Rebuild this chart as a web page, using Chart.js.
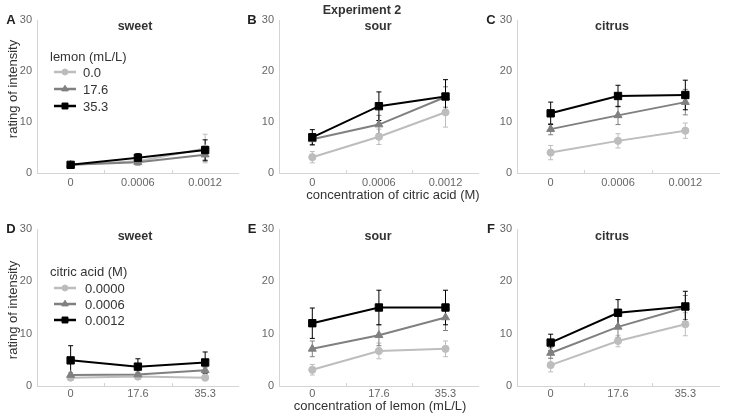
<!DOCTYPE html>
<html><head><meta charset="utf-8">
<script src="https://cdn.jsdelivr.net/npm/chart.js@4/dist/chart.umd.min.js"></script>
<style>
body{margin:0;background:#fff;font-family:"Liberation Sans",Arial,sans-serif;}
#wrap{position:relative;width:729px;height:417px;overflow:hidden;background:#fff;}
canvas{position:absolute;}
.t{position:absolute;white-space:nowrap;line-height:1;color:#333;}
.c{transform:translate(-50%,-50%);}
.l{transform:translateY(-50%);}
.b{font-weight:bold;}
</style></head><body><div id="wrap"></div>
<script>
// ---------- data ----------
const citricCats = ['0', '0.0006', '0.0012'];
const lemonCats = ['0', '17.6', '35.3'];
const lemonLevels = ['0.0', '17.6', '35.3'];
const citricLevels = ['0.0000', '0.0006', '0.0012'];
const yTicks = [0, 10, 20, 30];

// Top row: x = citric acid, series = lemon level
const A_sweet_l0 = [1.6, 2.3, 4.8];   const A_sweet_l0_err = [0.4, 0.8, 2.8];
const A_sweet_l1 = [1.6, 2.1, 3.6];   const A_sweet_l1_err = [0.4, 0.5, 1.3];
const A_sweet_l2 = [1.6, 3.0, 4.5];   const A_sweet_l2_err = [0.4, 0.8, 2.0];

const B_sour_l0 = [3.1, 7.1, 11.9];   const B_sour_l0_err = [1.1, 1.5, 2.9];
const B_sour_l1 = [6.6, 9.5, 14.9];   const B_sour_l1_err = [1.0, 1.8, 2.0];
const B_sour_l2 = [7.0, 13.1, 15.0];  const B_sour_l2_err = [1.5, 2.8, 3.3];

const C_citrus_l0 = [4.0, 6.3, 8.3];   const C_citrus_l0_err = [1.4, 1.4, 1.5];
const C_citrus_l1 = [8.6, 11.3, 13.9]; const C_citrus_l1_err = [1.1, 1.8, 2.5];
const C_citrus_l2 = [11.7, 15.1, 15.3];const C_citrus_l2_err = [2.2, 2.1, 2.9];

// Bottom row: x = lemon, series = citric acid level
const D_sweet_c0 = [1.6, 1.8, 1.6];   const D_sweet_c0_err = [0.3, 0.3, 0.3];
const D_sweet_c1 = [2.1, 2.2, 3.0];   const D_sweet_c1_err = [0.4, 0.4, 0.6];
const D_sweet_c2 = [4.9, 3.7, 4.5];   const D_sweet_c2_err = [2.8, 1.5, 2.0];

const E_sour_c0 = [3.1, 6.7, 7.1];    const E_sour_c0_err = [1.0, 1.5, 1.5];
const E_sour_c1 = [7.1, 9.7, 13.1];   const E_sour_c1_err = [1.5, 2.0, 2.5];
const E_sour_c2 = [12.0, 15.0, 15.0]; const E_sour_c2_err = [2.9, 3.3, 3.3];

const F_citrus_c0 = [4.0, 8.6, 11.8]; const F_citrus_c0_err = [1.3, 1.1, 2.2];
const F_citrus_c1 = [6.3, 11.3, 15.0];const F_citrus_c1_err = [1.0, 2.0, 2.3];
const F_citrus_c2 = [8.3, 14.0, 15.2];const F_citrus_c2_err = [1.6, 2.5, 2.9];

// ---------- styles ----------
const FONT = '"Liberation Sans", Arial, sans-serif';
const COLS = ['#bdbdbd', '#808080', '#000000'];
const STYLES = ['circle', 'triangle', 'rect'];
const RADII = [3.6, 4.6, 5.2];
const LEG_RADII = [3, 3.8, 4.2];
const AXIS = '#d4d4d4';

const wrap = document.getElementById('wrap');
function txt(s, x, y, cls, extra) {
  const d = document.createElement('div');
  d.className = 't ' + cls;
  d.textContent = s;
  d.style.left = x + 'px'; d.style.top = y + 'px';
  if (extra) Object.assign(d.style, extra);
  wrap.appendChild(d);
}

const errorBars = {
  id: 'errorBars',
  beforeDatasetsDraw(chart) {
    const ctx = chart.ctx, ys = chart.scales.y;
    chart.data.datasets.forEach((ds, i) => {
      const meta = chart.getDatasetMeta(i);
      ctx.save(); ctx.strokeStyle = ds.borderColor; ctx.lineWidth = 1;
      ds.data.forEach((v, j) => {
        const e = ds.errors[j], px = meta.data[j].x;
        const t = ys.getPixelForValue(v + e), b = ys.getPixelForValue(v - e);
        ctx.beginPath();
        ctx.moveTo(px, t); ctx.lineTo(px, b);
        ctx.moveTo(px - 2.5, t); ctx.lineTo(px + 2.5, t);
        ctx.moveTo(px - 2.5, b); ctx.lineTo(px + 2.5, b);
        ctx.stroke();
      });
      ctx.restore();
    });
  }
};

// small inward tick marks between categories
const innerTicks = {
  id: 'innerTicks',
  afterDraw(chart) {
    const ctx = chart.ctx, xs = chart.scales.x, a = chart.chartArea;
    ctx.save(); ctx.strokeStyle = AXIS; ctx.lineWidth = 1;
    for (let i = 0; i < xs.ticks.length - 1; i++) {
      const px = Math.round((xs.getPixelForTick(i) + xs.getPixelForTick(i + 1)) / 2) + 0.5;
      ctx.beginPath(); ctx.moveTo(px, a.bottom); ctx.lineTo(px, a.bottom - 3); ctx.stroke();
    }
    ctx.restore();
  }
};

function legendPlugin(x0, x1, ys) {
  return {
    id: 'miniLegend',
    afterDraw(chart) {
      const ctx = chart.ctx;
      ys.forEach((y, i) => {
        ctx.save();
        ctx.strokeStyle = COLS[i]; ctx.lineWidth = 2.5;
        ctx.beginPath(); ctx.moveTo(x0, y); ctx.lineTo(x1, y); ctx.stroke();
        ctx.fillStyle = COLS[i]; ctx.lineWidth = 1;
        Chart.helpers.drawPoint(ctx, {pointStyle: STYLES[i], radius: LEG_RADII[i], rotation: 0, borderWidth: 1}, (x0 + x1) / 2, y);
        ctx.restore();
      });
    }
  };
}

function panel(cLeft, cTop, cW, cH, area, cats, series, errs, xPad, extraPlugins) {
  const cv = document.createElement('canvas');
  cv.width = cW; cv.height = cH;
  cv.style.left = cLeft + 'px'; cv.style.top = cTop + 'px';
  cv.style.width = cW + 'px'; cv.style.height = cH + 'px';
  wrap.appendChild(cv);
  const yW = area.left - cLeft;
  const xH = cTop + cH - area.bottom;
  const datasets = series.map((d, i) => ({
    data: d, errors: errs[i],
    borderColor: COLS[i], backgroundColor: COLS[i],
    pointBackgroundColor: COLS[i], pointBorderColor: COLS[i],
    pointStyle: STYLES[i], pointRadius: RADII[i], pointBorderWidth: 1, borderWidth: 2,
    order: 3 - i, tension: 0
  }));
  new Chart(cv, {
    type: 'line',
    data: {labels: cats, datasets},
    options: {
      responsive: false, animation: false, devicePixelRatio: 1, events: [],
      layout: {padding: {top: area.top - cTop, right: cLeft + cW - area.right, left: 0, bottom: 0}},
      plugins: {legend: {display: false}, tooltip: {enabled: false}, title: {display: false}},
      scales: {
        x: {
          type: 'category', offset: true,
          grid: {display: false, drawTicks: false},
          border: {display: true, color: AXIS},
          ticks: {color: '#666', font: {size: 11, family: FONT}, padding: xPad, maxRotation: 0},
          afterFit(s) { s.height = xH; }
        },
        y: {
          min: 0, max: 30,
          afterBuildTicks(s) { s.ticks = yTicks.map(v => ({value: v})); },
          grid: {display: false, drawTicks: false},
          border: {display: true, color: AXIS},
          ticks: {color: '#666', font: {size: 11, family: FONT}, padding: 5},
          afterFit(s) { s.width = yW; }
        }
      }
    },
    plugins: [errorBars, innerTicks].concat(extraPlugins || [])
  });
}

// top row
panel(0, 0, 245, 200, {left: 37, right: 240, top: 20, bottom: 173}, citricCats,
  [A_sweet_l0, A_sweet_l1, A_sweet_l2], [A_sweet_l0_err, A_sweet_l1_err, A_sweet_l2_err], 3,
  [legendPlugin(54, 76, [72, 89, 106])]);
panel(240, 0, 245, 200, {left: 279, right: 481, top: 20, bottom: 173}, citricCats,
  [B_sour_l0, B_sour_l1, B_sour_l2], [B_sour_l0_err, B_sour_l1_err, B_sour_l2_err], 3);
panel(480, 0, 249, 200, {left: 517, right: 719, top: 20, bottom: 173}, citricCats,
  [C_citrus_l0, C_citrus_l1, C_citrus_l2], [C_citrus_l0_err, C_citrus_l1_err, C_citrus_l2_err], 3);
// bottom row
panel(0, 200, 245, 217, {left: 37, right: 240, top: 229, bottom: 386}, lemonCats,
  [D_sweet_c0, D_sweet_c1, D_sweet_c2], [D_sweet_c0_err, D_sweet_c1_err, D_sweet_c2_err], 1,
  [legendPlugin(54, 76, [88, 104, 120])]);
panel(240, 200, 245, 217, {left: 279, right: 481, top: 229, bottom: 386}, lemonCats,
  [E_sour_c0, E_sour_c1, E_sour_c2], [E_sour_c0_err, E_sour_c1_err, E_sour_c2_err], 1);
panel(480, 200, 249, 217, {left: 517, right: 719, top: 229, bottom: 386}, lemonCats,
  [F_citrus_c0, F_citrus_c1, F_citrus_c2], [F_citrus_c0_err, F_citrus_c1_err, F_citrus_c2_err], 1);

// ---------- text overlays ----------
const bold13 = {fontSize: '13px', color: '#222'};
const title = {fontSize: '12.5px', color: '#333'};
txt('Experiment 2', 362, 10, 'c b', title);
txt('A', 11, 19, 'c b', bold13); txt('B', 252, 19, 'c b', bold13); txt('C', 491, 19, 'c b', bold13);
txt('D', 11, 228, 'c b', bold13); txt('E', 252, 228, 'c b', bold13); txt('F', 491, 228, 'c b', bold13);
txt('sweet', 135, 26, 'c b', title); txt('sour', 378, 26, 'c b', title); txt('citrus', 612, 26, 'c b', title);
txt('sweet', 135, 236, 'c b', title); txt('sour', 378, 236, 'c b', title); txt('citrus', 612, 236, 'c b', title);
const ax = {fontSize: '13px', color: '#333'};
txt('concentration of citric acid (M)', 393, 194, 'c', ax);
txt('concentration of lemon (mL/L)', 380, 405, 'c', ax);
txt('rating of intensity', 12, 89, 'c', Object.assign({transform: 'translate(-50%,-50%) rotate(-90deg)'}, ax));
txt('rating of intensity', 12, 310, 'c', Object.assign({transform: 'translate(-50%,-50%) rotate(-90deg)'}, ax));
const lg = {fontSize: '13px', color: '#333'};
txt('lemon (mL/L)', 50, 56, 'l', lg);
lemonLevels.forEach((s, i) => txt(s, 83, [72, 89, 106][i], 'l', lg));
txt('citric acid (M)', 50, 271, 'l', lg);
citricLevels.forEach((s, i) => txt(s, 85, [288, 304, 320][i], 'l', lg));
</script></body></html>
